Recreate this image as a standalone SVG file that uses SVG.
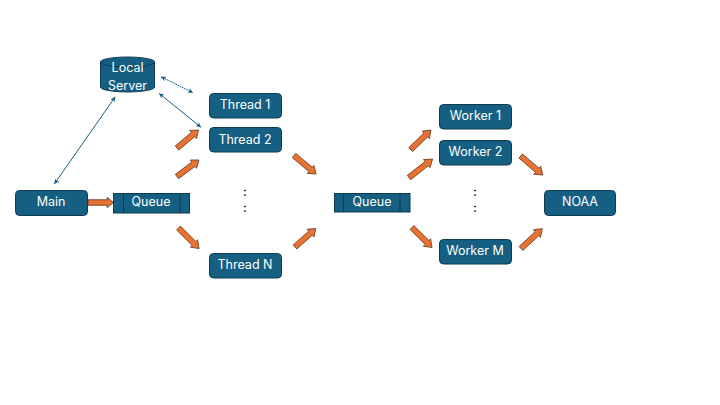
<svg xmlns="http://www.w3.org/2000/svg" width="720" height="405" viewBox="0 0 720 405">
<style>
.n{fill:#156082;stroke:#0d3a4f;stroke-width:1}
.q{fill:#156082;stroke:#0d3a4f;stroke-width:1}
.d{fill:none;stroke:#0d3a4f;stroke-width:1}
.t{font-family:Inter,sans-serif;font-size:12.5px;fill:#fff;text-anchor:middle}
.c{font-family:Inter,sans-serif;font-size:12px;font-weight:600;fill:#000;text-anchor:middle}
.a{fill:#e97132;stroke:#6b4226;stroke-width:.9;vector-effect:non-scaling-stroke}
.l{fill:none;stroke:#156082;stroke-width:1;marker-start:url(#hs);marker-end:url(#he)}
</style>
<defs>
<marker id="he" viewBox="0 0 6 6" refX="6" refY="3" markerWidth="5" markerHeight="5" orient="auto"><path d="M0,0L6,3L0,6L1.500,3Z" fill="#156082"/></marker>
<marker id="hs" viewBox="0 0 6 6" refX="0" refY="3" markerWidth="5" markerHeight="5" orient="auto"><path d="M6,0L0,3L6,6L4.500,3Z" fill="#156082"/></marker>
<path id="ar" class="a" d="M0,-2.700H21V-5.200L28,0L21,5.200V2.700H0Z"/>
</defs>
<rect width="720" height="405" fill="#fff"/>
<g id="connectors">
<line class="l" x1="54.300" y1="184" x2="115.300" y2="96.700"/>
<line class="l" x1="161" y1="76.700" x2="193" y2="92.700" stroke-dasharray="1.500 .6"/>
<line class="l" x1="159" y1="93.300" x2="201" y2="127.300"/>
<use href="#ar" transform="translate(88,202.500) scale(.91,1)"/>
<use href="#ar" transform="translate(177,148) rotate(-40)"/>
<use href="#ar" transform="translate(177,176.500) rotate(-36.900) scale(.98,1)"/>
<use href="#ar" transform="translate(178.500,228) rotate(45) scale(1.040,1)"/>
<use href="#ar" transform="translate(294,155.500) rotate(40) scale(1.030,1)"/>
<use href="#ar" transform="translate(295,247) rotate(-41.800) scale(.99,1)"/>
<use href="#ar" transform="translate(410.700,149.500) rotate(-43.900)"/>
<use href="#ar" transform="translate(409,177.500) rotate(-38) scale(1.070,1)"/>
<use href="#ar" transform="translate(412,227.500) rotate(45) scale(1.010,1)"/>
<use href="#ar" transform="translate(520.700,156) rotate(40.800) scale(1.040,1)"/>
<use href="#ar" transform="translate(521,248.500) rotate(-43) scale(1.040,1)"/>
</g>
<g id="local-server">
<path class="n" d="M100.500,62V87A27,5 0 0 0 154.500,87V62A27,5 0 0 0 100.500,62Z"/>
<path class="d" d="M100.500,62A27,5 0 0 0 154.500,62"/>
<text class="t" x="127.500" y="72">Local</text>
<text class="t" x="127.500" y="90">Server</text>
</g>
<g id="main"><rect class="n" x="15.500" y="190.500" width="72" height="25" rx="4"/><text class="t" x="51" y="206">Main</text></g>
<g id="queue-1"><rect class="q" x="113.500" y="193.500" width="76" height="19.500"/><path class="d" d="M123.500,193.500V213M180,193.500V213"/><text class="t" x="151" y="206">Queue</text></g>
<g id="thread-1"><rect class="n" x="209.500" y="93.500" width="72" height="24.500" rx="4"/><text class="t" x="245" y="108.500">Thread 1</text></g>
<g id="thread-2"><rect class="n" x="209.500" y="127.500" width="72" height="24.500" rx="4"/><text class="t" x="245" y="143.500">Thread 2</text></g>
<g id="thread-n"><rect class="n" x="209.500" y="253.500" width="72" height="24.500" rx="4"/><text class="t" x="245" y="269">Thread N</text></g>
<g id="dots-1"><text class="c" x="245" y="196">:</text><text class="c" x="245" y="212">:</text></g>
<g id="queue-2"><rect class="q" x="334.500" y="193.500" width="75.500" height="18.500"/><path class="d" d="M343.500,193.500V212M400,193.500V212"/><text class="t" x="372" y="206">Queue</text></g>
<g id="worker-1"><rect class="n" x="439.500" y="104.500" width="72" height="24.500" rx="4"/><text class="t" x="475.500" y="120">Worker 1</text></g>
<g id="worker-2"><rect class="n" x="439.500" y="140.500" width="72" height="24.500" rx="4"/><text class="t" x="475.500" y="156">Worker 2</text></g>
<g id="worker-m"><rect class="n" x="439.500" y="239.500" width="72" height="24.500" rx="4"/><text class="t" x="475" y="255">Worker M</text></g>
<g id="dots-2"><text class="c" x="475" y="196">:</text><text class="c" x="475" y="212">:</text></g>
<g id="noaa"><rect class="n" x="544.500" y="190.500" width="71" height="25" rx="4"/><text class="t" x="580" y="206">NOAA</text></g>
</svg>
